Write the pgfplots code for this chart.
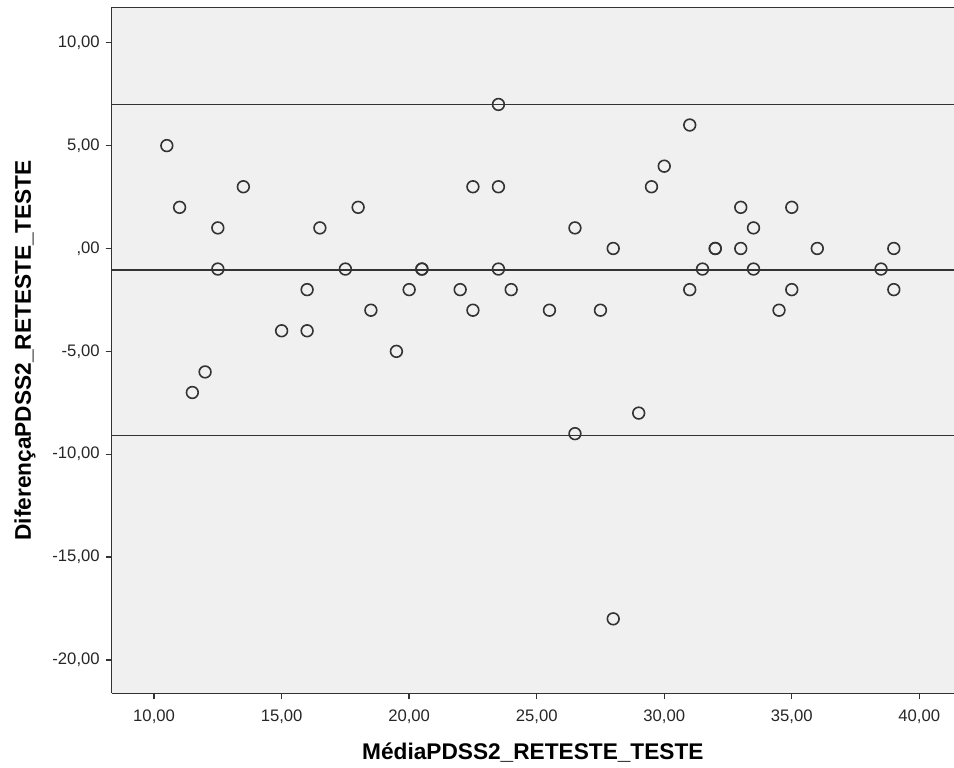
\documentclass[border=0pt]{standalone}
\usepackage{fontspec}
\setmainfont{Liberation Sans}
\usepackage{pgfplots}
\pgfplotsset{compat=1.18}
\definecolor{bgc}{HTML}{F0F0F0}
\definecolor{dk}{HTML}{333333}
\begin{document}
\begin{tikzpicture}
\begin{axis}[
  name=ax,
  scale only axis,
  width=631.7pt, height=514.5pt,
  xmin=8.34, xmax=41.36, ymin=-21.62, ymax=11.72,
  axis lines=left,
  axis line style={-, line width=1.1pt, draw=dk},
  axis background/.style={fill=bgc},
  xtick={10,15,20,25,30,35,40},
  xticklabels={{10,00},{15,00},{20,00},{25,00},{30,00},{35,00},{40,00}},
  ytick={-20,-15,-10,-5,0,5,10},
  yticklabels={{-20,00},{-15,00},{-10,00},{-5,00},{,00},{5,00},{10,00}},
  tick align=outside,
  major tick length=4.5pt,
  tick style={line width=1pt, draw=dk},
  ticklabel style={font=\fontsize{12.5}{15}\selectfont, text=black!85},
  xticklabel style={anchor=north, yshift=-4pt},
  yticklabel style={anchor=east, xshift=-1pt},
  xlabel={MédiaPDSS2\_RETESTE\_TESTE},
  ylabel={DiferençaPDSS2\_RETESTE\_TESTE},
  label style={font=\bfseries\fontsize{17}{20}\selectfont},
  xlabel style={at={(axis description cs:0.5,0)}, anchor=center, yshift=-44.8pt},
  ylabel style={at={(axis description cs:-0.1029,0.5)}, anchor=center},
  clip=false,
]
\addplot[only marks, mark=o, mark size=4.4pt, mark options={line width=1.2pt, draw=dk}] table {
x y
10.5 5
11 2
11.5 -7
12 -6
12.5 1
12.5 -1
13.5 3
15 -4
16 -2
16 -4
16.5 1
17.5 -1
18 2
18.5 -3
19.5 -5
20 -2
20.5 -1
20.5 -1
22 -2
22.5 3
22.5 -3
23.5 7
23.5 3
23.5 -1
24 -2
25.5 -3
26.5 1
26.5 -9
27.5 -3
28 0
28 -18
29 -8
29.5 3
30 4
31 6
31 -2
31.5 -1
32 0
32 0
33 2
33 0
33.5 1
33.5 -1
34.5 -3
35 2
35 -2
36 0
38.5 -1
39 0
39 -2
};
\addplot[dk, line width=1.2pt] coordinates {(8.34,7.0) (41.36,7.0)};
\addplot[dk, line width=1.2pt] coordinates {(8.34,-1.04) (41.36,-1.04)};
\addplot[dk, line width=1.2pt] coordinates {(8.34,-9.08) (41.36,-9.08)};
\draw[line width=1.1pt, dk] (rel axis cs:0,1) -- (rel axis cs:1,1);
\end{axis}
\pgfresetboundingbox
\path[use as bounding box] ([xshift=-83.8pt,yshift=-55.3pt]ax.south west) rectangle ([yshift=5.5pt]ax.north east);
\end{tikzpicture}
\end{document}
